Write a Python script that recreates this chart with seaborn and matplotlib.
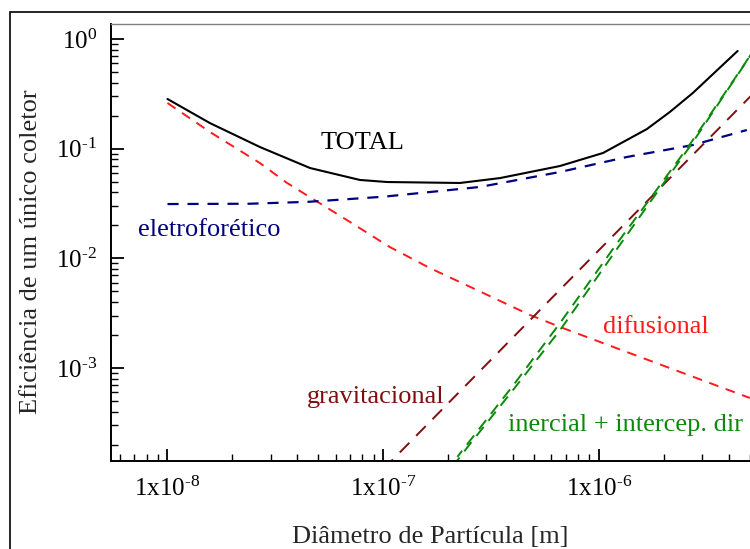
import numpy as np
import matplotlib
matplotlib.use("Agg")
import matplotlib.pyplot as plt
import seaborn as sns
from matplotlib.patches import Rectangle
from matplotlib.ticker import FixedLocator, FixedFormatter, LogLocator, NullFormatter

# particle diameter [m] vs single collector efficiency
d_total = [1.0e-8, 1.57e-8, 2.68e-8, 4.57e-8, 7.78e-8, 1.04e-7, 2.26e-7, 3.47e-7, 6.56e-7, 1.04e-6,
           1.66e-6, 2.12e-6, 2.71e-6, 4.37e-6]
eta_total = [0.284, 0.1715, 0.1036, 0.0667, 0.0519, 0.0497, 0.0487, 0.054, 0.0695, 0.0914,
             0.151, 0.216, 0.322, 0.778]

d_eletro = [1.0e-8, 2.4e-8, 4.5e-8, 1.0e-7, 2.8e-7, 6.56e-7, 1.34e-6, 2.71e-6, 4.82e-6]
eta_eletro = [0.0313, 0.0315, 0.0328, 0.0365, 0.0448, 0.0613, 0.084, 0.108, 0.148]

d_difus = [1.0e-8, 1.6e-8, 2.68e-8, 3.58e-8, 7.0e-8, 1.07e-7, 1.64e-7, 2.71e-7, 4.77e-7, 6.77e-7,
           1.2e-6, 2.44e-6, 4.98e-6]
eta_difus = [0.261, 0.139, 0.074, 0.0487, 0.0215, 0.0127, 0.00817, 0.00515, 0.00305, 0.00232,
             0.00152, 0.000902, 0.000534]

d_grav = [1.0e-7, 1.0e-6, 6.0e-6]
eta_grav = [1.2e-4, 1.2e-2, 0.43]

d_inerc = [2.09e-7, 2.45e-7, 3.98e-7, 6.6e-7, 1.2e-6, 1.7e-6, 2.63e-6, 4.62e-6, 5.6e-6]
eta_inerc = [1.26e-4, 1.9e-4, 6.3e-4, 2.24e-3, 0.012, 0.0316, 0.105, 0.556, 1.0]

d_interc = [2.2e-7, 4.0e-7, 6.6e-7, 1.2e-6, 1.7e-6, 2.63e-6, 4.62e-6, 5.6e-6]
eta_interc = [1.55e-4, 7.0e-4, 2.6e-3, 0.0135, 0.034, 0.11, 0.56, 1.0]

x_ticks = [1e-8, 1e-7, 1e-6, 1e-5]
x_labels = [r"$1\mathrm{x}10^{\text{-}8}$", r"$1\mathrm{x}10^{\text{-}7}$", r"$1\mathrm{x}10^{\text{-}6}$", ""]
y_ticks = [1e-4, 1e-3, 1e-2, 1e-1, 1e0]
y_labels = [r"$10^{\text{-}4}$", r"$10^{\text{-}3}$", r"$10^{\text{-}2}$", r"$10^{\text{-}1}$", r"$10^{0}$"]

sns.set_style("ticks")
plt.rcParams["font.family"] = ["Liberation Serif", "DejaVu Serif"]
plt.rcParams["mathtext.fontset"] = "custom"
plt.rcParams["mathtext.rm"] = "Liberation Serif"
plt.rcParams["mathtext.it"] = "Liberation Serif:italic"
plt.rcParams["mathtext.bf"] = "Liberation Serif:bold"

fig = plt.figure(figsize=(7.5, 5.49), dpi=100)
ax = fig.add_axes([0.148, 0.1603, 0.939, 0.796])
ax.set_xscale("log")
ax.set_yscale("log")

RED = "#ff1a1a"
NAVY = "#000080"
DARKRED = "#7f0f0f"
GREEN = "#0a8a0a"

sns.lineplot(x=d_difus, y=eta_difus, ax=ax, color=RED, lw=1.4, linestyle=(0, (5, 4)), estimator=None, sort=False)
sns.lineplot(x=d_eletro, y=eta_eletro, ax=ax, color=NAVY, lw=1.6, linestyle=(0, (5, 4)), estimator=None, sort=False)
sns.lineplot(x=d_grav, y=eta_grav, ax=ax, color=DARKRED, lw=1.4, linestyle=(0, (7, 5)), estimator=None, sort=False)
sns.lineplot(x=d_inerc, y=eta_inerc, ax=ax, color=GREEN, lw=1.4, linestyle=(0, (6, 4)), estimator=None, sort=False)
sns.lineplot(x=d_interc, y=eta_interc, ax=ax, color=GREEN, lw=1.4, linestyle=(2, (6, 4)), estimator=None, sort=False)
sns.lineplot(x=d_total, y=eta_total, ax=ax, color="black", lw=1.5, estimator=None, sort=False)

ax.set_xlim(10 ** -8.2616, 1e-5)
ax.set_ylim(10 ** -3.847, 10 ** 0.137)

ax.xaxis.set_major_locator(FixedLocator(x_ticks))
ax.xaxis.set_major_formatter(FixedFormatter(x_labels))
ax.yaxis.set_major_locator(FixedLocator(y_ticks))
ax.yaxis.set_major_formatter(FixedFormatter(y_labels))
ax.xaxis.set_minor_locator(LogLocator(base=10, subs=np.arange(2, 10)))
ax.yaxis.set_minor_locator(LogLocator(base=10, subs=np.arange(2, 10)))
ax.xaxis.set_minor_formatter(NullFormatter())
ax.yaxis.set_minor_formatter(NullFormatter())
ax.tick_params(which="both", direction="in", top=False, right=False, colors="black")
ax.tick_params(which="major", length=9, width=1.3, labelsize=18)
ax.tick_params(axis="x", which="major", pad=11)
ax.tick_params(axis="y", which="major", pad=10)
ax.tick_params(which="minor", length=5, width=1.0)

for s in ["left", "bottom"]:
    ax.spines[s].set_color("black")
    ax.spines[s].set_linewidth(1.4)
ax.spines["top"].set_color("#808080")
ax.spines["top"].set_linewidth(1.0)
ax.spines["right"].set_visible(False)
ax.set_xlabel("")
ax.set_ylabel("")

ax.text(8.04e-8, 0.113, "TOTAL", fontsize=19, ha="center", va="center", color="black")
ax.text(7.3e-9, 0.0182, "eletroforético", fontsize=19, ha="left", va="center", color=NAVY)
ax.text(1.04e-6, 2.37e-3, "difusional", fontsize=19, ha="left", va="center", color=RED)
ax.text(4.42e-8, 5.45e-4, "gravitacional", fontsize=19, ha="left", va="center", color=DARKRED)
ax.text(3.77e-7, 3.03e-4, "inercial + intercep. dir", fontsize=19, ha="left", va="center", color=GREEN)

fig.text(430 / 750, 1 - 537 / 549, "Diâmetro de Partícula [m]", fontsize=19, ha="center", va="center")
fig.text(31 / 750, 1 - 252 / 549, "Eficiência de um único coletor", fontsize=19, ha="center", va="center", rotation=90)

# outer frame of the original figure (cropped on the right and bottom)
fig.add_artist(Rectangle((10 / 750, -0.5), 2.0, 0.5 + 1 - 12 / 549, transform=fig.transFigure,
                         fill=False, ec="black", lw=1.2, clip_on=False))

fig.savefig("out.png", dpi=100)
